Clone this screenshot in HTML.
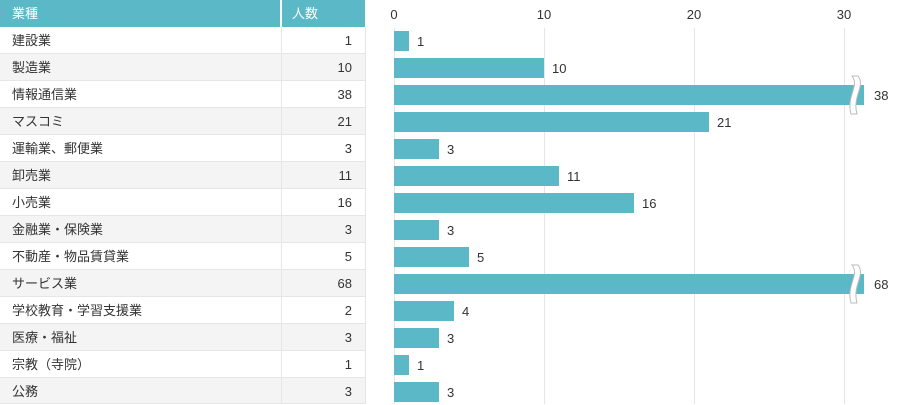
<!DOCTYPE html>
<html><head><meta charset="utf-8"><style>
body{margin:0;width:900px;height:404px;background:#fff;font-family:"Liberation Sans","Noto Sans CJK JP",sans-serif;color:#333;overflow:hidden;position:relative;font-size:13px}
.r{position:absolute;left:0;width:365px;height:27px;line-height:27px;border-bottom:1px solid #e6e6ea;box-sizing:border-box}
.r.g{background:#f4f4f4}
.a{position:absolute;left:12px;top:0}
.b{position:absolute;right:13px;top:0}
.h{position:absolute;top:0;height:27px;line-height:27px;background:#5bb8c6;color:#fff}
.v{position:absolute;left:281px;top:27px;width:1px;height:377px;background:#e6e6ea}
.v2{position:absolute;left:365px;top:27px;width:1px;height:377px;background:#e6e6ea}
</style></head><body>
<div class="h" style="left:0;width:280px"><span style="padding-left:12px">業種</span></div>
<div class="h" style="left:282px;width:83px"><span style="padding-left:10px">人数</span></div>
<div class="r" style="top:27px"><span class="a">建設業</span><span class="b">1</span></div>
<div class="r g" style="top:54px"><span class="a">製造業</span><span class="b">10</span></div>
<div class="r" style="top:81px"><span class="a">情報通信業</span><span class="b">38</span></div>
<div class="r g" style="top:108px"><span class="a">マスコミ</span><span class="b">21</span></div>
<div class="r" style="top:135px"><span class="a">運輸業、郵便業</span><span class="b">3</span></div>
<div class="r g" style="top:162px"><span class="a">卸売業</span><span class="b">11</span></div>
<div class="r" style="top:189px"><span class="a">小売業</span><span class="b">16</span></div>
<div class="r g" style="top:216px"><span class="a">金融業・保険業</span><span class="b">3</span></div>
<div class="r" style="top:243px"><span class="a">不動産・物品賃貸業</span><span class="b">5</span></div>
<div class="r g" style="top:270px"><span class="a">サービス業</span><span class="b">68</span></div>
<div class="r" style="top:297px"><span class="a">学校教育・学習支援業</span><span class="b">2</span></div>
<div class="r g" style="top:324px"><span class="a">医療・福祉</span><span class="b">3</span></div>
<div class="r" style="top:351px"><span class="a">宗教（寺院）</span><span class="b">1</span></div>
<div class="r g" style="top:378px;height:26px"><span class="a">公務</span><span class="b">3</span></div>
<div class="v"></div><div class="v2"></div>
<svg width="900" height="404" style="position:absolute;left:0;top:0" font-family="Liberation Sans, sans-serif" font-size="13" fill="#333">
<g stroke="#e4e4ea" stroke-width="1">
<line x1="394.5" y1="28" x2="394.5" y2="404"/><line x1="544.5" y1="28" x2="544.5" y2="404"/><line x1="694.5" y1="28" x2="694.5" y2="404"/><line x1="844.5" y1="28" x2="844.5" y2="404"/>
</g>
<g text-anchor="middle"><text x="394" y="19">0</text><text x="544" y="19">10</text><text x="694" y="19">20</text><text x="844" y="19">30</text></g>
<g fill="#5bb8c6">
<rect x="394" y="31" width="15" height="20"/>
<rect x="394" y="58" width="150" height="20"/>
<rect x="394" y="85" width="470" height="20"/>
<rect x="394" y="112" width="315" height="20"/>
<rect x="394" y="139" width="45" height="20"/>
<rect x="394" y="166" width="165" height="20"/>
<rect x="394" y="193" width="240" height="20"/>
<rect x="394" y="220" width="45" height="20"/>
<rect x="394" y="247" width="75" height="20"/>
<rect x="394" y="274" width="470" height="20"/>
<rect x="394" y="301" width="60" height="20"/>
<rect x="394" y="328" width="45" height="20"/>
<rect x="394" y="355" width="15" height="20"/>
<rect x="394" y="382" width="45" height="20"/>
</g>
<g>
<path d="M852 76 C860 86,846 96,851 114 L857 114 C852 96,866 86,858 76 Z" fill="#fff" stroke="#bbb" stroke-width="1"/>
<path d="M852 265 C860 275,846 285,851 303 L857 303 C852 285,866 275,858 265 Z" fill="#fff" stroke="#bbb" stroke-width="1"/>
</g>
<g>
<text x="417" y="46">1</text><text x="552" y="73">10</text><text x="874" y="100">38</text><text x="717" y="127">21</text><text x="447" y="154">3</text><text x="567" y="181">11</text><text x="642" y="208">16</text><text x="447" y="235">3</text><text x="477" y="262">5</text><text x="874" y="289">68</text><text x="462" y="316">4</text><text x="447" y="343">3</text><text x="417" y="370">1</text><text x="447" y="397">3</text>
</g>
</svg>
</body></html>
